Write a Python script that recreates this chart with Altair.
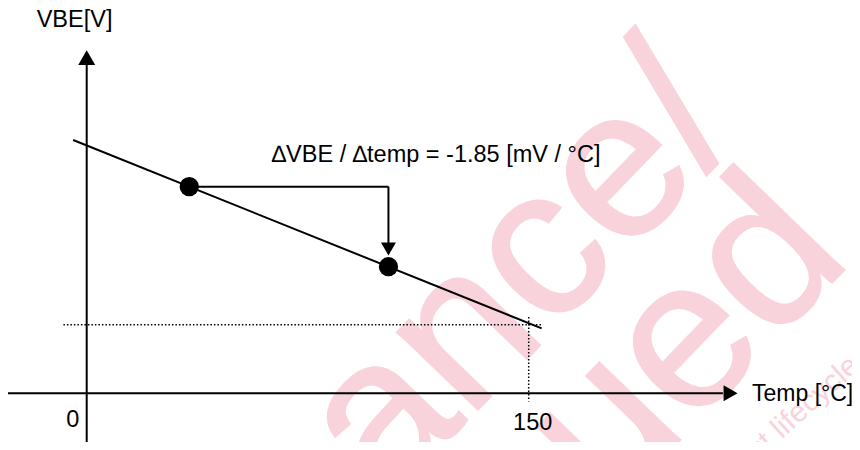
import altair as alt
import pandas as pd

# ---------------- data ----------------
# VBE characteristic line (temperature in degC, VBE in relative mV)
line_temp = [-4.6, 154.4]
line_vbe = [395.6, 101.4]
# the two marked points
dot_temp = [34.8, 102.4]
dot_vbe = [322.7, 197.7]
# reference (dotted) lines at 150 degC
ref_temp = 150.0
ref_vbe = 107.0
# tick labels on the temperature axis
tick_temps = [0, 150]
tick_labels = ["0", "150"]
annotation = "\u2206VBE / \u2206temp = -1.85 [mV / \u00b0C]"
x_title = "Temp [\u00b0C]"
y_title = "VBE[V]"

# ---------------- scale set-up ----------------
W, H = 844, 434
PX_PER_C = 2.9467
X_ORIGIN = 78.7          # pixel of 0 degC inside the view
PX_PER_MV = 0.6403
Y_ORIGIN = 385.3         # pixel of the temperature axis inside the view
T0 = -X_ORIGIN / PX_PER_C
T1 = (W - X_ORIGIN) / PX_PER_C
V_TOP = Y_ORIGIN / PX_PER_MV
V_BOT = -(H - Y_ORIGIN) / PX_PER_MV

xs = alt.Scale(domain=[T0, T1], nice=False, zero=False)
ys = alt.Scale(domain=[V_BOT, V_TOP], nice=False, zero=False)

X = lambda f: alt.X(f, type="quantitative", scale=xs, axis=None)
Y = lambda f: alt.Y(f, type="quantitative", scale=ys, axis=None)

X_AXIS_END = 215.9
Y_AXIS_END = 512.7
BRACKET_BOTTOM = 234.0

solid = pd.DataFrame({
    "t":  [T0, 0.0, line_temp[0], dot_temp[0], dot_temp[1]],
    "v":  [0.0, V_BOT, line_vbe[0], dot_vbe[0], dot_vbe[0]],
    "t2": [X_AXIS_END, 0.0, line_temp[1], dot_temp[1], dot_temp[1]],
    "v2": [0.0, Y_AXIS_END, line_vbe[1], dot_vbe[0], BRACKET_BOTTOM],
})
dotted = pd.DataFrame({
    "t":  [-7.9, ref_temp],
    "v":  [ref_vbe, 119.0],
    "t2": [154.4, ref_temp],
    "v2": [ref_vbe, -13.0],
})
arrows = pd.DataFrame({
    "t": [0.0, 218.5, dot_temp[1]],
    "v": [524.4, 0.0, 225.4],
    "shape": ["triangle-up", "triangle-right", "triangle-down"],
    "size": [289, 260, 225],
})
dots = pd.DataFrame({"t": dot_temp, "v": dot_vbe})
ticks = pd.DataFrame({"t": tick_temps, "label": tick_labels})

FONT = "Liberation Sans"
PINK = "#f9d3dc"
FS = 23.5

# watermark
wm = pd.DataFrame({
    "x": [738, 846],
    "y": [124, 252],
    "text": ["Maintenance/", "Discontinued"],
})
wm_layer = alt.Chart(wm).mark_text(
    font=FONT, fontSize=212, color=PINK, stroke=PINK, strokeWidth=2, angle=314, align="right",
    baseline="alphabetic"
).encode(x=alt.X("x:Q", scale=None, axis=None), y=alt.Y("y:Q", scale=None, axis=None), text="text:N")

wm_small = pd.DataFrame({
    "x": [853, 874],
    "y": [360, 435],
    "text": ["Please check the product lifecycle", "on the website for products discontinued"],
})
wm_small_layer = alt.Chart(wm_small).mark_text(
    font=FONT, fontSize=30, color=PINK, angle=318, align="right", baseline="alphabetic"
).encode(x=alt.X("x:Q", scale=None, axis=None), y=alt.Y("y:Q", scale=None, axis=None), text="text:N")

solid_layer = alt.Chart(solid).mark_rule(color="black", strokeWidth=2, strokeCap="butt").encode(
    x=X("t"), y=Y("v"), x2="t2", y2="v2")
dotted_layer = alt.Chart(dotted).mark_rule(color="black", strokeWidth=1.5, strokeDash=[1.5, 2]).encode(
    x=X("t"), y=Y("v"), x2="t2", y2="v2")
arrow_layer = alt.Chart(arrows).mark_point(filled=True, color="black", opacity=1, strokeWidth=0).encode(
    x=X("t"), y=Y("v"),
    shape=alt.Shape("shape:N", scale=None, legend=None),
    size=alt.Size("size:Q", scale=None, legend=None))
dot_layer = alt.Chart(dots).mark_circle(color="black", opacity=1, size=370).encode(x=X("t"), y=Y("v"))

tick0_layer = alt.Chart(ticks).transform_filter(alt.datum.t == 0).mark_text(
    font=FONT, fontSize=FS, color="black", baseline="alphabetic", dx=-14).encode(
    x=X("t"), y=alt.value(418.7), text="label:N")
tick150_layer = alt.Chart(ticks).transform_filter(alt.datum.t == 150).mark_text(
    font=FONT, fontSize=FS, color="black", baseline="alphabetic", dx=4).encode(
    x=X("t"), y=alt.value(422), text="label:N")

txt = pd.DataFrame({
    "x": [28.7, 263.7, 744],
    "y": [18.7, 153.7, 392.5],
    "text": [y_title, annotation, x_title],
    "size": [FS, FS, 23],
})
text_layer = alt.Chart(txt).mark_text(font=FONT, color="black", align="left",
                                      baseline="alphabetic").encode(
    x=alt.X("x:Q", scale=None, axis=None), y=alt.Y("y:Q", scale=None, axis=None), text="text:N",
    size=alt.Size("size:Q", scale=None, legend=None))

chart = alt.layer(
    wm_layer, wm_small_layer, dotted_layer, solid_layer, arrow_layer, dot_layer,
    tick0_layer, tick150_layer, text_layer
).properties(
    width=W, height=H, padding=0, autosize="none"
).configure_view(stroke=None)

chart.save("out.html", embed_options={"renderer": "svg", "actions": False})
